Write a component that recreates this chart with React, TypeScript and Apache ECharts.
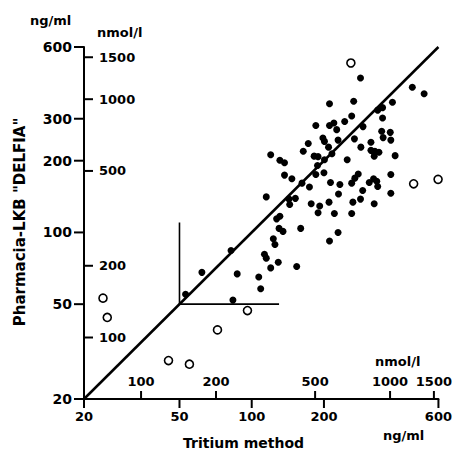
import React, { useEffect, useRef } from "react";
import * as echarts from "echarts";

// ng/ml values (Tritium method on x, Pharmacia-LKB "DELFIA" on y)
const filledX = [284, 467, 523, 211, 266, 386, 335, 351, 351, 261, 244, 220, 211, 185, 226, 291, 348, 378, 353, 380,
  198, 201, 229, 268, 314, 172, 209, 285, 314, 326, 339, 164, 182, 189, 216, 324, 396, 120, 201, 250,
  131, 137, 188, 185, 200, 137, 147, 278, 269, 261, 309, 322, 332, 335, 380, 162, 174, 213, 233, 290,
  380, 230, 115, 143, 152, 144, 264, 284, 324, 177, 192, 210, 189, 221, 261, 131, 127, 130, 135, 160,
  229, 123, 125, 211, 113, 115, 82, 120, 129, 154, 107, 109, 87, 62, 53, 83.5];
const filledY = [445, 407, 382, 347, 355, 352, 326, 334, 302, 308, 292, 288, 281, 281, 270, 278, 266, 263, 250, 244,
  249, 241, 244, 247, 239, 236, 228, 228, 221, 219, 217, 219, 209, 208, 214, 209, 210, 212, 202, 202,
  201, 196, 191, 175, 178, 174, 168, 176, 169, 161, 162, 168, 164, 156, 175, 161, 155, 162, 159, 150,
  146, 145, 141, 138, 139, 131, 134, 138, 132, 132, 129, 134, 121, 120, 120, 117, 114, 104, 101, 104,
  100, 94, 89, 92, 81, 78, 84, 71, 75, 72, 65, 58, 67, 68, 55, 52];
const openX = [259, 473, 598, 96, 72, 45, 55, 24, 25];
const openY = [514, 160, 167, 47, 39, 29, 28, 53, 44];

// identity line and cut-off lines (ng/ml)
const identityLine = [[20, 20], [600, 600]];
const cutoffLine = [[50, 110], [50, 50], [130, 50]];

// tick labels
const ngTicksX = [20, 50, 100, 200, 600];
const ngTicksY = [20, 50, 100, 200, 300, 600];
const nmolTicks = [100, 200, 500, 1000, 1500];

// axis ranges
const ngRange = [20, 600];
const nmolRangeX = [59, 1564];
const nmolRangeY = [55.2, 1656];

const FONT = "DejaVu Sans";

export default function App() {
  const ref = useRef<HTMLDivElement>(null);
  useEffect(() => {
    if (!ref.current) return;
    const chart = echarts.init(ref.current, null, { renderer: "svg" });
    const lbl = {
      color: "#000",
      fontFamily: FONT,
      fontWeight: "bold" as const,
      fontSize: 13,
      formatter: (v: number) => String(Math.round(v)),
    };
    const filled = filledX.map((x, i) => [x, filledY[i]]);
    const open = openX.map((x, i) => [x, openY[i]]);
    const txt = (text: string, x: number, y: number, size: number, align = "left", rot = 0) => ({
      type: "text",
      x,
      y,
      rotation: rot,
      style: {
        text,
        fill: "#000",
        font: `bold ${size}px "${FONT}"`,
        textAlign: align,
        textVerticalAlign: "middle",
      },
    });
    const texts = [
      txt("ng/ml", 30, 20, 13),
      txt("nmol/l", 97, 32, 13),
      txt("nmol/l", 375, 361, 13),
      txt("ng/ml", 383, 435, 13),
      txt("Tritium method", 183, 443, 14),
      txt('Pharmacia-LKB "DELFIA"', 20, 222, 15, "center", Math.PI / 2),
    ];
    chart.setOption({
      animation: false,
      backgroundColor: "#fff",
      grid: { left: 84, right: 14, top: 47, bottom: 53 },
      xAxis: [
        {
          type: "log",
          logBase: 10,
          min: ngRange[0],
          max: ngRange[1],
          position: "bottom",
          axisLine: { show: true, lineStyle: { color: "#000", width: 2 } },
          axisTick: { show: false },
          axisLabel: { ...lbl, margin: 11, customValues: ngTicksX },
          splitLine: { show: false },
        },
        {
          type: "log",
          logBase: 10,
          min: nmolRangeX[0],
          max: nmolRangeX[1],
          position: "bottom",
          axisLine: { show: false },
          axisTick: { show: false },
          axisLabel: { ...lbl, inside: true, margin: 11, customValues: nmolTicks },
          splitLine: { show: false },
        },
      ],
      yAxis: [
        {
          type: "log",
          logBase: 10,
          min: ngRange[0],
          max: ngRange[1],
          position: "left",
          axisLine: { show: true, lineStyle: { color: "#000", width: 2 } },
          axisTick: { show: false },
          axisLabel: { ...lbl, fontSize: 14, margin: 12, customValues: ngTicksY },
          splitLine: { show: false },
        },
        {
          type: "log",
          logBase: 10,
          min: nmolRangeY[0],
          max: nmolRangeY[1],
          position: "left",
          axisLine: { show: false },
          axisTick: { show: false },
          axisLabel: { ...lbl, inside: true, margin: 15, customValues: nmolTicks },
          splitLine: { show: false },
        },
      ],
      series: [
        {
          type: "line",
          data: identityLine,
          xAxisIndex: 0,
          yAxisIndex: 0,
          showSymbol: false,
          symbol: "none",
          lineStyle: { color: "#000", width: 2.5 },
          silent: true,
        },
        {
          type: "line",
          data: cutoffLine,
          xAxisIndex: 0,
          yAxisIndex: 0,
          showSymbol: false,
          symbol: "none",
          lineStyle: { color: "#000", width: 1.6 },
          silent: true,
        },
        {
          type: "scatter",
          data: filled,
          xAxisIndex: 0,
          yAxisIndex: 0,
          symbol: "circle",
          symbolSize: 7,
          itemStyle: { color: "#000", opacity: 1 },
        },
        {
          type: "scatter",
          data: open,
          xAxisIndex: 0,
          yAxisIndex: 0,
          symbol: "circle",
          symbolSize: 8,
          itemStyle: { color: "#fff", borderColor: "#000", borderWidth: 1.6, opacity: 1 },
        },
      ],
      graphic: texts,
    });

    // tick marks as small filled bars, positioned by the axes' own scales
    const ticks: any[] = [];
    const num = (r: any) => (Array.isArray(r) ? Number(r[0]) : Number(r));
    const bar = (x: number, y: number, w: number, h: number) => ({
      type: "rect",
      z: 100,
      shape: { x, y, width: w, height: h },
      style: { fill: "#000" },
      silent: true,
    });
    try {
      const axisY = num(chart.convertToPixel({ yAxisIndex: 0 }, ngRange[0]));
      const axisX = num(chart.convertToPixel({ xAxisIndex: 0 }, ngRange[0]));
      ngTicksX.forEach((v) => {
        const px = num(chart.convertToPixel({ xAxisIndex: 0 }, v));
        ticks.push(bar(px - 1, axisY, 2, 9));
      });
      ngTicksY.forEach((v) => {
        const py = num(chart.convertToPixel({ yAxisIndex: 0 }, v));
        ticks.push(bar(axisX - 10, py - 1, 10, 2));
      });
      nmolTicks.forEach((v) => {
        const px = num(chart.convertToPixel({ xAxisIndex: 1 }, v));
        ticks.push(bar(px - 1, axisY - 8, 2, 8));
        const py = num(chart.convertToPixel({ yAxisIndex: 1 }, v));
        ticks.push(bar(axisX, py - 1, 9, 2));
      });
    } catch (e) {
      // conversion unavailable: no ticks
    }
    const good = ticks.filter(
      (t) => isFinite(t.shape.x) && isFinite(t.shape.y)
    );
    if (good.length) chart.setOption({ graphic: [...texts, ...good] });
    return () => chart.dispose();
  }, []);
  return (
    <div
      ref={ref}
      style={{ position: "fixed", left: 0, top: 0, width: 455, height: 452, background: "#fff" }}
    />
  );
}
